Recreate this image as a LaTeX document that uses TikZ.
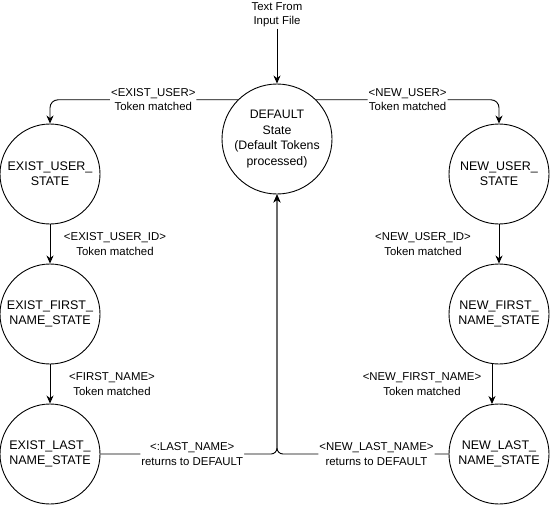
\documentclass[tikz,border=0pt]{standalone}
\usepackage{fontspec}
\setmainfont{Liberation Sans}
\usetikzlibrary{arrows.meta}
\tikzset{
  state/.style={circle, draw=black, line width=0.9pt, inner sep=0pt, minimum size=100pt, align=center, font=\fontsize{12.5}{15}\selectfont},
  bigstate/.style={state, minimum size=110pt, font=\fontsize{12.3}{15.5}\selectfont},
  conn/.style={draw=black, line width=0.9pt, -{Stealth[length=8pt,width=7pt,inset=2.5pt]}},
  lbl/.style={fill=white, inner sep=1pt, align=center, font=\fontsize{11.4}{14.5}\selectfont},
  plain/.style={inner sep=1pt, align=center, font=\fontsize{11.4}{14.5}\selectfont}
}
\begin{document}
\begin{tikzpicture}[x=1pt,y=-1pt]
\useasboundingbox (0,0) rectangle (551,504);
\node[plain] (in) at (277,15) {Text From\\Input File};
\node[bigstate] (def) at (277,139) {DEFAULT\\State\\(Default Tokens\\processed)};
\node[state] (eu) at (50,174) {EXIST\_USER\_\\STATE};
\node[state] (ef) at (50,314) {EXIST\_FIRST\_\\NAME\_STATE};
\node[state] (el) at (50,454) {EXIST\_LAST\_\\NAME\_STATE};
\node[state] (nu) at (499,174) {NEW\_USER\_\\STATE};
\node[state] (nf) at (499,314) {NEW\_FIRST\_\\NAME\_STATE};
\node[state] (nl) at (499,454) {NEW\_LAST\_\\NAME\_STATE};

\draw[conn] (in.south) -- (def.north);
\draw[conn, rounded corners=8pt] (def.135) -| node[lbl, pos=0.225] {<EXIST\_USER>\\Token matched} (eu.north);
\draw[conn, rounded corners=8pt] (def.45) -| node[lbl, pos=0.25] {<NEW\_USER>\\Token matched} (nu.north);
\draw[conn] (eu.south) -- node[plain, xshift=65pt] {<EXIST\_USER\_ID>\\Token matched} (ef.north);
\draw[conn] (ef.south) -- node[plain, xshift=62pt] {<FIRST\_NAME>\\Token matched} (el.north);
\draw[conn] (nu.south) -- node[plain, xshift=-76pt] {<NEW\_USER\_ID>\\Token matched} (nf.north);
\draw[conn] (nf.262) -- node[plain, xshift=-70pt] {<NEW\_FIRST\_NAME>\\Token matched} (nl.98);
\draw[conn, rounded corners=6pt] (el.east) -| node[lbl, pos=0.26] {<:LAST\_NAME>\\returns to DEFAULT} (def.south);
\draw[conn, rounded corners=6pt] (nl.west) -| node[lbl, pos=0.21] {<NEW\_LAST\_NAME>\\returns to DEFAULT} (def.south);
\end{tikzpicture}
\end{document}
